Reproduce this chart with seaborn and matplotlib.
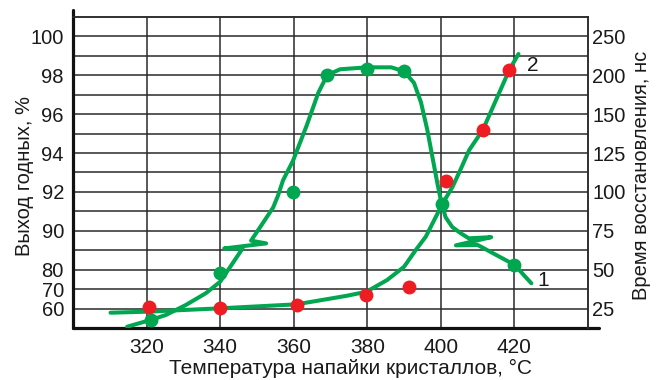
import numpy as np
import pandas as pd
import seaborn as sns
import matplotlib.pyplot as plt

# broken axes: value -> grid row (16 rows on the chart)
pct_breaks = [50, 80, 90, 100, 102]
pct_rows = [0, 3, 5, 15, 16]
ns_breaks = [12.5, 150, 250, 275]
ns_rows = [0, 11, 15, 16]

# curve 1: yield, % (points)
yield_t = [321.1, 340.0, 359.8, 369.1, 379.9, 389.9, 400.2, 420.0]
yield_pct = [54.3, 78.5, 92.0, 98.0, 98.3, 98.2, 91.4, 81.3]

# curve 1 as drawn (with the axis-break zigzags)
line1_t = [314.7, 321.1, 325.2, 330.7, 336.1, 340.0, 343.4, 346.1,
           341.1, 352.5, 348.4,
           351.6, 354.4, 355.7, 357.1, 359.8, 363.5, 366.7, 369.1, 372.6,
           379.9, 386.5, 390.0, 392.7, 394.6, 396.3, 397.7, 399.1, 400.2,
           401.3, 403.1, 405.4, 407.6,
           413.7, 404.1, 410.0,
           420.0, 424.6]
line1_pct = [50.8, 54.3, 56.8, 62.0, 68.0, 73.9, 81.7, 85.5,
             85.5, 86.8, 87.5,
             90.4, 91.2, 91.8, 92.6, 93.6, 95.4, 97.1, 98.0, 98.3,
             98.4, 98.4, 98.2, 97.6, 96.6, 95.2, 93.8, 92.4, 91.4,
             90.7, 90.2, 89.4, 88.1,
             88.4, 86.3, 86.4,
             81.3, 73.1]

# curve 2: recovery time, ns (points)
time_t = [320.6, 340.0, 360.8, 379.7, 391.3, 401.3, 411.4, 418.6]
time_ns = [26.4, 25.3, 27.5, 33.9, 38.8, 107.2, 139.8, 206.6]

# curve 2 as drawn
line2_t = [310.2, 320.6, 339.8, 360.8, 374.5, 379.8, 385.4, 390.0, 393.2,
           395.9, 398.2, 400.5, 403.2, 405.5, 407.7, 411.4, 418.6, 421.1]
line2_ns = [22.5, 23.2, 25.3, 27.9, 33.4, 36.0, 43.5, 52.0, 62.8,
            71.3, 82.0, 92.7, 103.4, 115.2, 126.9, 139.8, 206.6, 227.1]

x_ticks = [320, 340, 360, 380, 400, 420]
pct_ticks = [60, 70, 80, 90, 92, 94, 96, 98, 100]
pct_minor = [85, 91, 93, 95, 97, 99]
ns_ticks = [25, 50, 75, 100, 125, 150, 200, 250]

green = '#00A650'
red = '#EE1D23'
grid_c = '#2a2a2a'
text_c = '#1a1a1a'

sns.set_style('white')
plt.rcParams['font.family'] = ['Liberation Sans', 'DejaVu Sans']
plt.rcParams['font.size'] = 14

fig = plt.figure(figsize=(6.6, 3.8), dpi=100)
ax = fig.add_axes([73 / 660, 51.7 / 380, 515 / 660, 311.6 / 380])
ax2 = ax.twinx()

sns.lineplot(x=line1_t, y=line1_pct, sort=False, estimator=None,
             color=green, lw=2.9, ax=ax, zorder=3)
sns.scatterplot(x=yield_t, y=yield_pct, color=green, s=100, linewidth=0,
                ax=ax, zorder=4)
sns.lineplot(x=line2_t, y=line2_ns, sort=False, estimator=None,
             color=green, lw=2.9, ax=ax2, zorder=3)
sns.scatterplot(x=time_t, y=time_ns, color=red, s=100, linewidth=0,
                ax=ax2, zorder=4)

ax.set_yscale('function', functions=(
    lambda v: np.interp(v, pct_breaks, pct_rows),
    lambda g: np.interp(g, pct_rows, pct_breaks)))
ax2.set_yscale('function', functions=(
    lambda v: np.interp(v, ns_breaks, ns_rows),
    lambda g: np.interp(g, ns_rows, ns_breaks)))

ax.set_xlim(300, 440)
ax.set_ylim(50, 102)
ax2.set_ylim(12.5, 275)

ax.set_xticks(x_ticks)
ax.set_xticklabels([str(t) for t in x_ticks])
ax.set_yticks(pct_ticks)
ax.set_yticklabels([str(t) for t in pct_ticks])
ax.set_yticks(pct_minor, minor=True)
ax.yaxis.set_minor_formatter(plt.NullFormatter())
ax2.set_yticks(ns_ticks)
ax2.set_yticklabels([str(t) for t in ns_ticks])
ax2.yaxis.set_minor_locator(plt.NullLocator())

ax.grid(which='both', axis='y', color=grid_c, lw=1.1)
ax.grid(which='major', axis='x', color=grid_c, lw=1.1)
ax.set_axisbelow(True)
ax.tick_params(which='both', length=0, labelsize=14.5, colors=text_c)
ax.tick_params(axis='y', pad=6.5)
ax.tick_params(axis='x', pad=7, labelsize=15)
ax2.tick_params(length=0, labelsize=14.5, colors=text_c, pad=3)

for a in (ax, ax2):
    for s in a.spines.values():
        s.set_color(grid_c)
        s.set_linewidth(1.1)
    a.spines['left'].set_visible(False)
    a.spines['bottom'].set_visible(False)
# heavy left/bottom axes, a little longer than the grid
ax.axvline(300, ymin=0, ymax=1.022, color='#111', lw=2.3, clip_on=False)
ax.axhline(50, xmin=0, xmax=1.021, color='#111', lw=2.3, clip_on=False)

ax.set_xlabel('Температура напайки кристаллов, °С', fontsize=15,
              color=text_c)
ax.xaxis.set_label_coords(0.538, -0.098)
ax.xaxis.label.set_va('top')
ax.set_ylabel('Выход годных, %', fontsize=14.5, color=text_c)
ax.yaxis.set_label_coords(-0.076, 0.49)
ax2.set_ylabel('Время восстановления, нс', fontsize=14.5, color=text_c)
ax2.yaxis.set_label_coords(1.085, 0.49)
ax2.yaxis.label.set_va('top')

ax.annotate('1', xy=(line1_t[-1], line1_pct[-1]), xytext=(4, 2),
            textcoords='offset points', va='center', fontsize=15,
            color=text_c)
ax2.annotate('2', xy=(line2_t[-1], line2_ns[-1]), xytext=(6, -8),
             textcoords='offset points', va='center', fontsize=15,
             color=text_c)

fig.savefig('out.png', dpi=100)
